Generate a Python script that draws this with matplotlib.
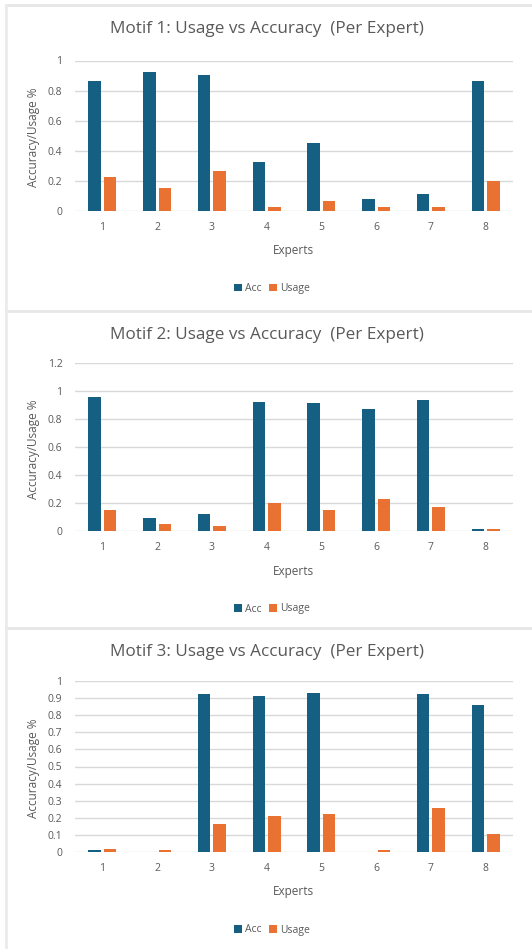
import numpy as np
import matplotlib.pyplot as plt
from matplotlib.lines import Line2D

experts = ['1', '2', '3', '4', '5', '6', '7', '8']
titles = ['Motif 1: Usage vs Accuracy  (Per Expert)',
          'Motif 2: Usage vs Accuracy  (Per Expert)',
          'Motif 3: Usage vs Accuracy  (Per Expert)']

acc1 = [0.863, 0.925, 0.903, 0.327, 0.454, 0.077, 0.108, 0.863]
usage1 = [0.223, 0.150, 0.265, 0.024, 0.066, 0.024, 0.024, 0.201]

acc2 = [0.957, 0.094, 0.118, 0.923, 0.911, 0.868, 0.935, 0.017]
usage2 = [0.151, 0.050, 0.038, 0.200, 0.151, 0.231, 0.173, 0.017]

acc3 = [0.014, 0.0, 0.922, 0.914, 0.932, 0.0, 0.922, 0.860]
usage3 = [0.019, 0.012, 0.166, 0.212, 0.222, 0.012, 0.259, 0.103]

yticks1 = [0, 0.2, 0.4, 0.6, 0.8, 1]
yticks2 = [0, 0.2, 0.4, 0.6, 0.8, 1, 1.2]
yticks3 = [0, 0.1, 0.2, 0.3, 0.4, 0.5, 0.6, 0.7, 0.8, 0.9, 1]

ACC_C = '#156082'
USE_C = '#E97132'
TXT = '#595959'
GRID = '#D9D9D9'

plt.rcParams['font.family'] = ['Open Sans', 'DejaVu Sans']

W, H = 532, 949
fig = plt.figure(figsize=(W / 100, H / 100), dpi=100)


def px(x, y):
    return x / W, 1 - y / H


# panel layout in pixels: (panel top, axes top, axes bottom)
panels = [
    (5, 60.5, 210.7, acc1, usage1, yticks1),
    (311, 363, 531, acc2, usage2, yticks2),
    (628, 681, 852, acc3, usage3, yticks3),
]

x0, x1 = 75, 513
for i, (ptop, atop, abot, acc, usage, yt) in enumerate(panels):
    # light frame like an Excel chart box
    fig.add_artist(Line2D([6 / W, 1], [1 - ptop / H] * 2, color='#E6E6E6', lw=2,
                          transform=fig.transFigure))
    pbot = panels[i + 1][0] if i < 2 else H
    fig.add_artist(Line2D([6 / W] * 2, [1 - ptop / H, 1 - pbot / H], color='#EBEBEB', lw=2,
                          transform=fig.transFigure))

    l, b = px(x0, abot)
    ax = fig.add_axes([l, b, (x1 - x0) / W, (abot - atop) / H])
    x = np.arange(len(experts))
    w = 0.23
    ax.bar(x - 0.142, acc, w, color=ACC_C, label='Acc', zorder=3)
    ax.bar(x + 0.142, usage, w, color=USE_C, label='Usage', zorder=3)
    ax.set_xlim(-0.5, len(experts) - 0.5)
    ax.set_ylim(0, yt[-1])
    ax.set_yticks(yt)
    ax.set_yticklabels([('%g' % v) for v in yt])
    ax.set_xticks(x)
    ax.set_xticklabels(experts)
    ax.grid(axis='y', color=GRID, lw=1, zorder=0)
    for s in ax.spines.values():
        s.set_visible(False)
    ax.tick_params(length=0, colors=TXT, labelsize=7.5)
    ax.tick_params(axis='y', pad=9)
    ax.tick_params(axis='x', pad=8)

    fig.text(*px(267, ptop + 24), titles[i], ha='center', va='center',
             fontsize=12.3, color=TXT)
    fig.text(*px(293, abot + 40), 'Experts', ha='center', va='center',
             fontsize=8.5, color=TXT)
    fig.text(*px(33, (atop + abot) / 2 + 2), 'Accuracy/Usage %', ha='center', va='center',
             rotation=90, fontsize=8.5, color=TXT)
    lx, ly = px(272, abot + 78)
    ax.legend(loc='center', bbox_to_anchor=(lx, ly), bbox_transform=fig.transFigure,
              ncol=2, frameon=False, fontsize=7.5, labelcolor=TXT, handlelength=0.7,
              handleheight=0.7, handletextpad=0.3, columnspacing=0.8)

fig.savefig('out.png', dpi=100, facecolor='white')
